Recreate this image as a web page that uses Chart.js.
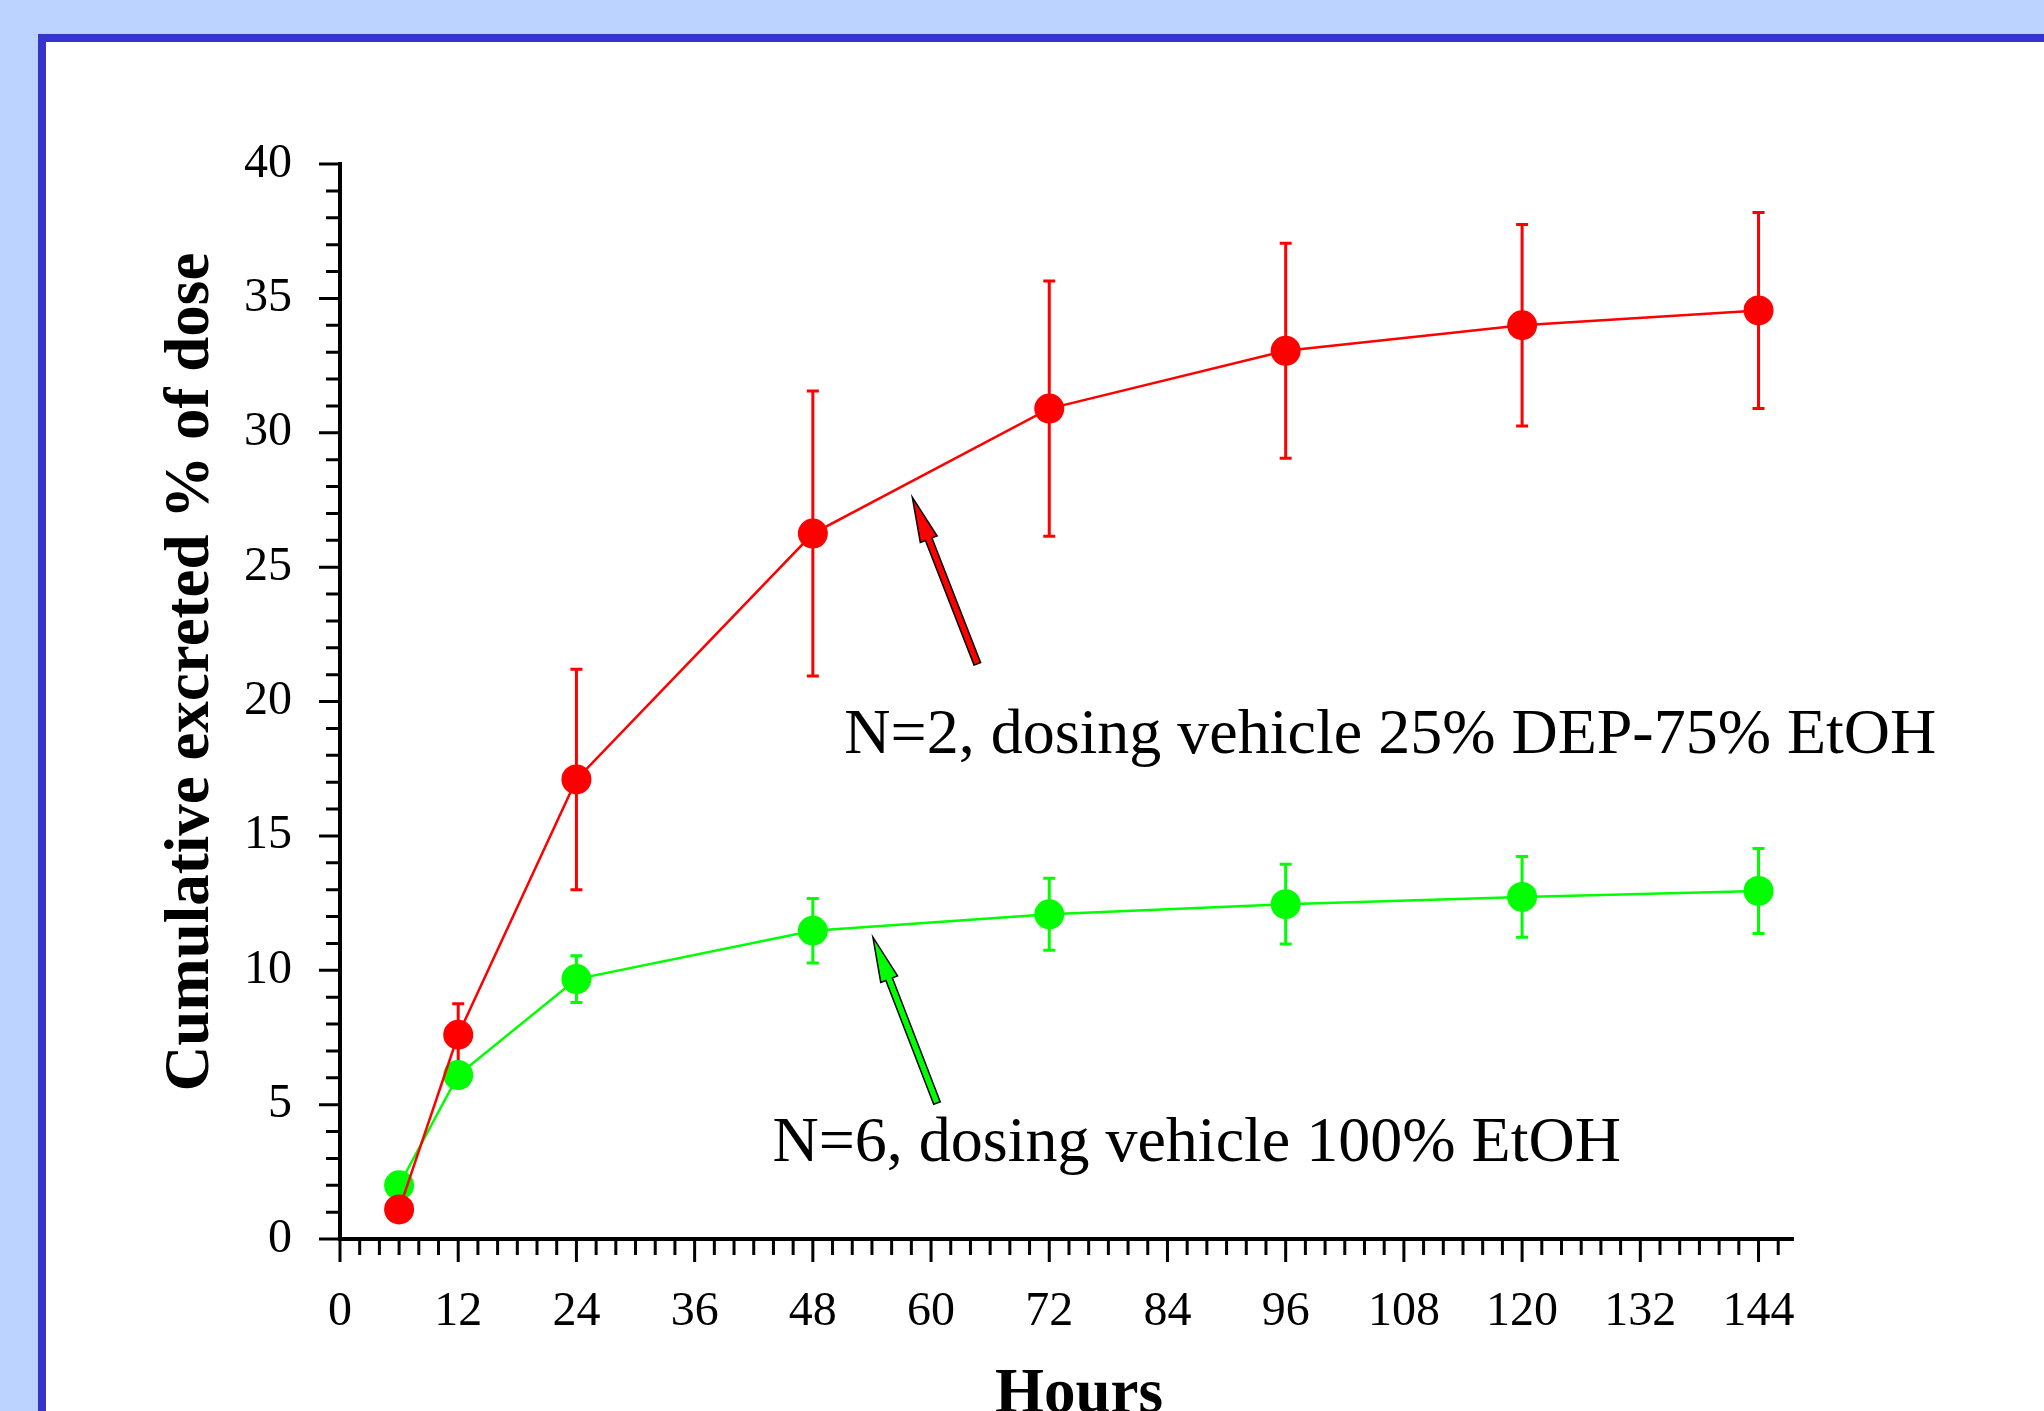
<!DOCTYPE html>
<html>
<head>
<meta charset="utf-8">
<script src="https://cdn.jsdelivr.net/npm/chart.js@4.4.1/dist/chart.umd.min.js"></script>
<style>
  html, body { margin: 0; padding: 0; background: #bbd3fe; }
  #wrap { width: 2044px; height: 1411px; position: relative; }
</style>
</head>
<body>
<div id="wrap"><canvas id="excretion-chart"></canvas></div>
<script>
// hours after dosing
var hours = [6, 12, 24, 48, 72, 96, 120, 144];

// N=2, 25% DEP-75% EtOH
var red_mean = [1.1, 7.6, 17.1, 26.25, 30.9, 33.05, 34.0, 34.55];
var red_err = [0.3, 1.15, 4.1, 5.3, 4.75, 4.0, 3.75, 3.65];

// N=6, 100% EtOH
var green_mean = [2.0, 6.1, 9.67, 11.47, 12.08, 12.46, 12.73, 12.95];
var green_err = [0.2, 0.4, 0.87, 1.2, 1.34, 1.48, 1.5, 1.58];

var x_tick_labels = [0, 12, 24, 36, 48, 60, 72, 84, 96, 108, 120, 132, 144];
var y_tick_labels = [0, 5, 10, 15, 20, 25, 30, 35, 40];

var red_label = 'N=2, dosing vehicle 25% DEP-75% EtOH';
var green_label = 'N=6, dosing vehicle 100% EtOH';

const SERIF = '"Liberation Serif", "Times New Roman", serif';

function points(xs, ys) {
  return xs.map(function (x, i) { return { x: x, y: ys[i] }; });
}

// light blue slide background with the blue frame
const frame_plugin = {
  id: 'frame',
  beforeDraw(chart) {
    const ctx = chart.ctx;
    ctx.save();
    ctx.fillStyle = '#bbd3fe';
    ctx.fillRect(0, 0, chart.width, chart.height);
    ctx.fillStyle = '#3634cc';
    ctx.fillRect(38, 34, chart.width, chart.height);
    ctx.fillStyle = '#ffffff';
    ctx.fillRect(46, 42, chart.width, chart.height);
    ctx.restore();
  }
};

// vertical error bars, drawn under the markers
const errbar_plugin = {
  id: 'errbars',
  beforeDatasetsDraw(chart) {
    const ctx = chart.ctx;
    const xs = chart.scales.x, ys = chart.scales.y;
    const sets = [[red_mean, red_err, '#ff0000'], [green_mean, green_err, '#00ff00']];
    ctx.save();
    ctx.lineWidth = 3;
    sets.forEach(function (s) {
      ctx.strokeStyle = s[2];
      hours.forEach(function (h, i) {
        const px = xs.getPixelForValue(h);
        const top = ys.getPixelForValue(s[0][i] + s[1][i]);
        const bot = ys.getPixelForValue(s[0][i] - s[1][i]);
        ctx.beginPath();
        ctx.moveTo(px, top); ctx.lineTo(px, bot);
        ctx.moveTo(px - 6, top); ctx.lineTo(px + 6, top);
        ctx.moveTo(px - 6, bot); ctx.lineTo(px + 6, bot);
        ctx.stroke();
      });
    });
    ctx.restore();
  }
};

// major / minor tick marks sticking out of the axes
const ticks_plugin = {
  id: 'ticks',
  afterDraw(chart) {
    const ctx = chart.ctx;
    const xs = chart.scales.x, ys = chart.scales.y;
    const a = chart.chartArea;
    ctx.save();
    ctx.strokeStyle = '#000';
    ctx.lineWidth = 3;
    ctx.beginPath();
    for (let v = 0; v <= 40; v += 1) {
      const py = ys.getPixelForValue(v);
      const len = v % 5 === 0 ? 21 : 14;
      ctx.moveTo(a.left, py); ctx.lineTo(a.left - len, py);
    }
    for (let h = 0; h <= 146; h += 2) {
      const px = xs.getPixelForValue(h);
      const len = h % 12 === 0 ? 23 : 16;
      ctx.moveTo(px, a.bottom); ctx.lineTo(px, a.bottom + len);
    }
    ctx.stroke();
    ctx.restore();
  }
};

function arrow(ctx, x0, y0, x1, y1, fill) {
  const ang = Math.atan2(y1 - y0, x1 - x0);
  const len = Math.hypot(x1 - x0, y1 - y0);
  const head = 45, hw = 9, sw = 3.5;
  ctx.save();
  ctx.translate(x0, y0);
  ctx.rotate(ang);
  ctx.beginPath();
  ctx.moveTo(0, -sw);
  ctx.lineTo(len - head, -sw);
  ctx.lineTo(len - head, -hw);
  ctx.lineTo(len, 0);
  ctx.lineTo(len - head, hw);
  ctx.lineTo(len - head, sw);
  ctx.lineTo(0, sw);
  ctx.closePath();
  ctx.fillStyle = fill;
  ctx.fill();
  ctx.lineWidth = 1.5;
  ctx.strokeStyle = '#000';
  ctx.stroke();
  ctx.restore();
}

// series labels, arrows and axis titles
const notes_plugin = {
  id: 'notes',
  afterDraw(chart) {
    const ctx = chart.ctx;
    const xs = chart.scales.x, ys = chart.scales.y;
    const X = function (v) { return xs.getPixelForValue(v); };
    const Y = function (v) { return ys.getPixelForValue(v); };

    arrow(ctx, X(64.7), Y(21.4), X(58.1), Y(27.6), '#ff0000');
    arrow(ctx, X(60.6), Y(5.06), X(54.1), Y(11.23), '#00ff00');

    ctx.save();
    ctx.fillStyle = '#000';
    ctx.textBaseline = 'alphabetic';
    ctx.textAlign = 'left';
    ctx.font = '64px ' + SERIF;
    ctx.fillText(red_label, X(51.2), Y(18.1));
    ctx.fillText(green_label, X(43.9), Y(2.9));

    ctx.font = 'bold 63px ' + SERIF;
    ctx.textAlign = 'center';
    ctx.fillText('Hours', 1079, 1412);

    ctx.translate(208, 672);
    ctx.rotate(-Math.PI / 2);
    ctx.fillText('Cumulative excreted % of dose', 0, 0);
    ctx.restore();
  }
};

const data_excretion = {
  datasets: [{
    label: 'N=2',
    data: points(hours, red_mean),
    borderColor: '#ff0000',
    backgroundColor: '#ff0000',
    borderWidth: 2.5,
    pointRadius: 15,
    pointBorderWidth: 0,
    tension: 0
  }, {
    label: 'N=6',
    data: points(hours, green_mean),
    borderColor: '#00ff00',
    backgroundColor: '#00ff00',
    borderWidth: 2.5,
    pointRadius: 15,
    pointBorderWidth: 0,
    tension: 0
  }]
};

const config_excretion = {
  type: 'line',
  data: data_excretion,
  options: {
    responsive: true,
    maintainAspectRatio: false,
    animation: false,
    layout: { padding: { left: 0, top: 164, right: 251, bottom: 0 } },
    plugins: { legend: { display: false }, tooltip: { enabled: false } },
    scales: {
      x: {
        type: 'linear',
        min: 0,
        max: 147.5,
        grid: { display: false, drawTicks: false, tickLength: 0 },
        border: { display: true, color: '#000', width: 4 },
        afterBuildTicks: function (scale) {
          scale.ticks = x_tick_labels.map(function (v) { return { value: v }; });
        },
        afterFit: function (scale) { scale.height = 172; },
        ticks: {
          color: '#000',
          padding: 45,
          maxRotation: 0,
          autoSkip: false,
          font: { family: SERIF, size: 48 }
        }
      },
      y: {
        min: 0,
        max: 40,
        grid: { display: false, drawTicks: false, tickLength: 0 },
        border: { display: true, color: '#000', width: 4 },
        afterBuildTicks: function (scale) {
          scale.ticks = y_tick_labels.map(function (v) { return { value: v }; });
        },
        afterFit: function (scale) { scale.width = 340; },
        ticks: {
          color: '#000',
          padding: 48,
          font: { family: SERIF, size: 48 }
        }
      }
    }
  },
  plugins: [frame_plugin, errbar_plugin, ticks_plugin, notes_plugin]
};

const excretion_chart = new Chart(
  document.getElementById('excretion-chart'),
  config_excretion
);
</script>
</body>
</html>
